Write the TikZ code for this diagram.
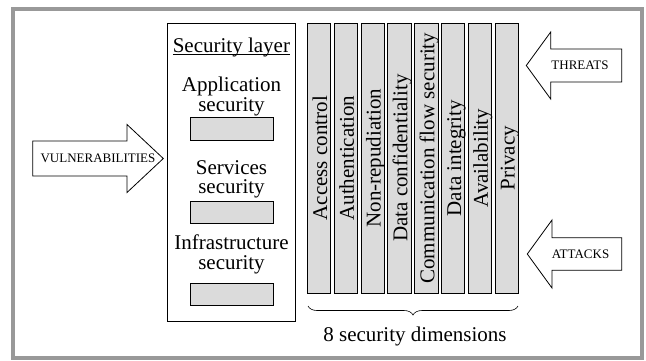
\documentclass[tikz,border=0pt]{standalone}
\usepackage{fontspec}
\setmainfont{Liberation Serif}
\usetikzlibrary{decorations.pathreplacing}
\definecolor{barfill}{gray}{0.86}
\definecolor{framegray}{gray}{0.6}
\newcommand{\bigfont}{\fontsize{21}{19.5}\selectfont}
\newcommand{\capfont}{\fontsize{13}{15}\selectfont}
\tikzset{
	dimbar/.style={draw,fill=barfill,rotate=90,minimum width=270.3pt,minimum height=23.5pt,inner sep=0pt,text height=17pt,text depth=1pt,font=\bigfont},
	slot/.style={draw,fill=barfill,minimum width=83.3pt,minimum height=22.3pt,inner sep=0pt},
	layertext/.style={align=center,inner sep=0pt,font=\bigfont},
	blockarrow/.style={draw,fill=white},
	arrowtext/.style={inner sep=0pt,font=\capfont},
}
\begin{document}
\begin{tikzpicture}[x=1pt,y=-1pt,line width=0.8pt]
	\useasboundingbox (0,0) rectangle (646,360);
	\draw[framegray,line width=4pt] (13,9) rectangle (642,358);
	\node[draw,minimum width=127.3pt,minimum height=298.7pt,inner sep=0pt] (layer) at (231.4,172.4) {};
	\node[anchor=base,inner sep=0pt,font=\bigfont] (title) at (231.4,52.7) {\underline{\smash{Security layer}}};
	\node[layertext] (app) at (231.5,96.7) {Application\\security};
	\node[slot] (appslot) at (231.7,128.9) {};
	\node[layertext] (serv) at (231.5,179.3) {Services\\security};
	\node[slot] (servslot) at (231.7,212.2) {};
	\node[layertext] (infra) at (231.5,254.3) {Infrastructure\\security};
	\node[slot] (infraslot) at (231.7,294.5) {};
	\node[dimbar] (access) at (319.05,158.2) {Access control};
	\node[dimbar] (authn) at (345.85,158.2) {Authentication};
	\node[dimbar] (nonrep) at (372.65,158.2) {Non-repudiation};
	\node[dimbar] (conf) at (399.45,158.2) {Data confidentiality};
	\node[dimbar] (flow) at (426.25,158.2) {Communication flow security};
	\node[dimbar] (integ) at (453.05,158.2) {Data integrity};
	\node[dimbar] (avail) at (479.85,158.2) {Availability};
	\node[dimbar] (priv) at (506.65,158.2) {Privacy};
	\draw[blockarrow] (32.7,141) -- (127,141) -- (127,124.5) -- (163.3,158.5) -- (127,192.5) -- (127,176) -- (32.7,176) -- cycle;
	\node[arrowtext] (vuln) at (98,158.5) {VULNERABILITIES};
	\draw[blockarrow] (621.7,49) -- (550.7,49) -- (550.7,32) -- (526.3,65.5) -- (550.7,99) -- (550.7,82) -- (621.7,82) -- cycle;
	\node[arrowtext] (threats) at (580,65.5) {THREATS};
	\draw[blockarrow] (621.7,237.7) -- (552,237.7) -- (552,220) -- (527.3,254) -- (552,288) -- (552,270.3) -- (621.7,270.3) -- cycle;
	\node[arrowtext] (attacks) at (580.5,254) {ATTACKS};
	\coordinate (braceleft) at (308,306);
	\coordinate (braceright) at (518,306);
	\draw[line width=0.6pt,decorate,decoration={brace,mirror,amplitude=9pt}] (braceleft) -- (braceright);
	\node[anchor=base,inner sep=0pt,font=\bigfont] (dims) at (415,341.5) {8 security dimensions};
\end{tikzpicture}
\end{document}
